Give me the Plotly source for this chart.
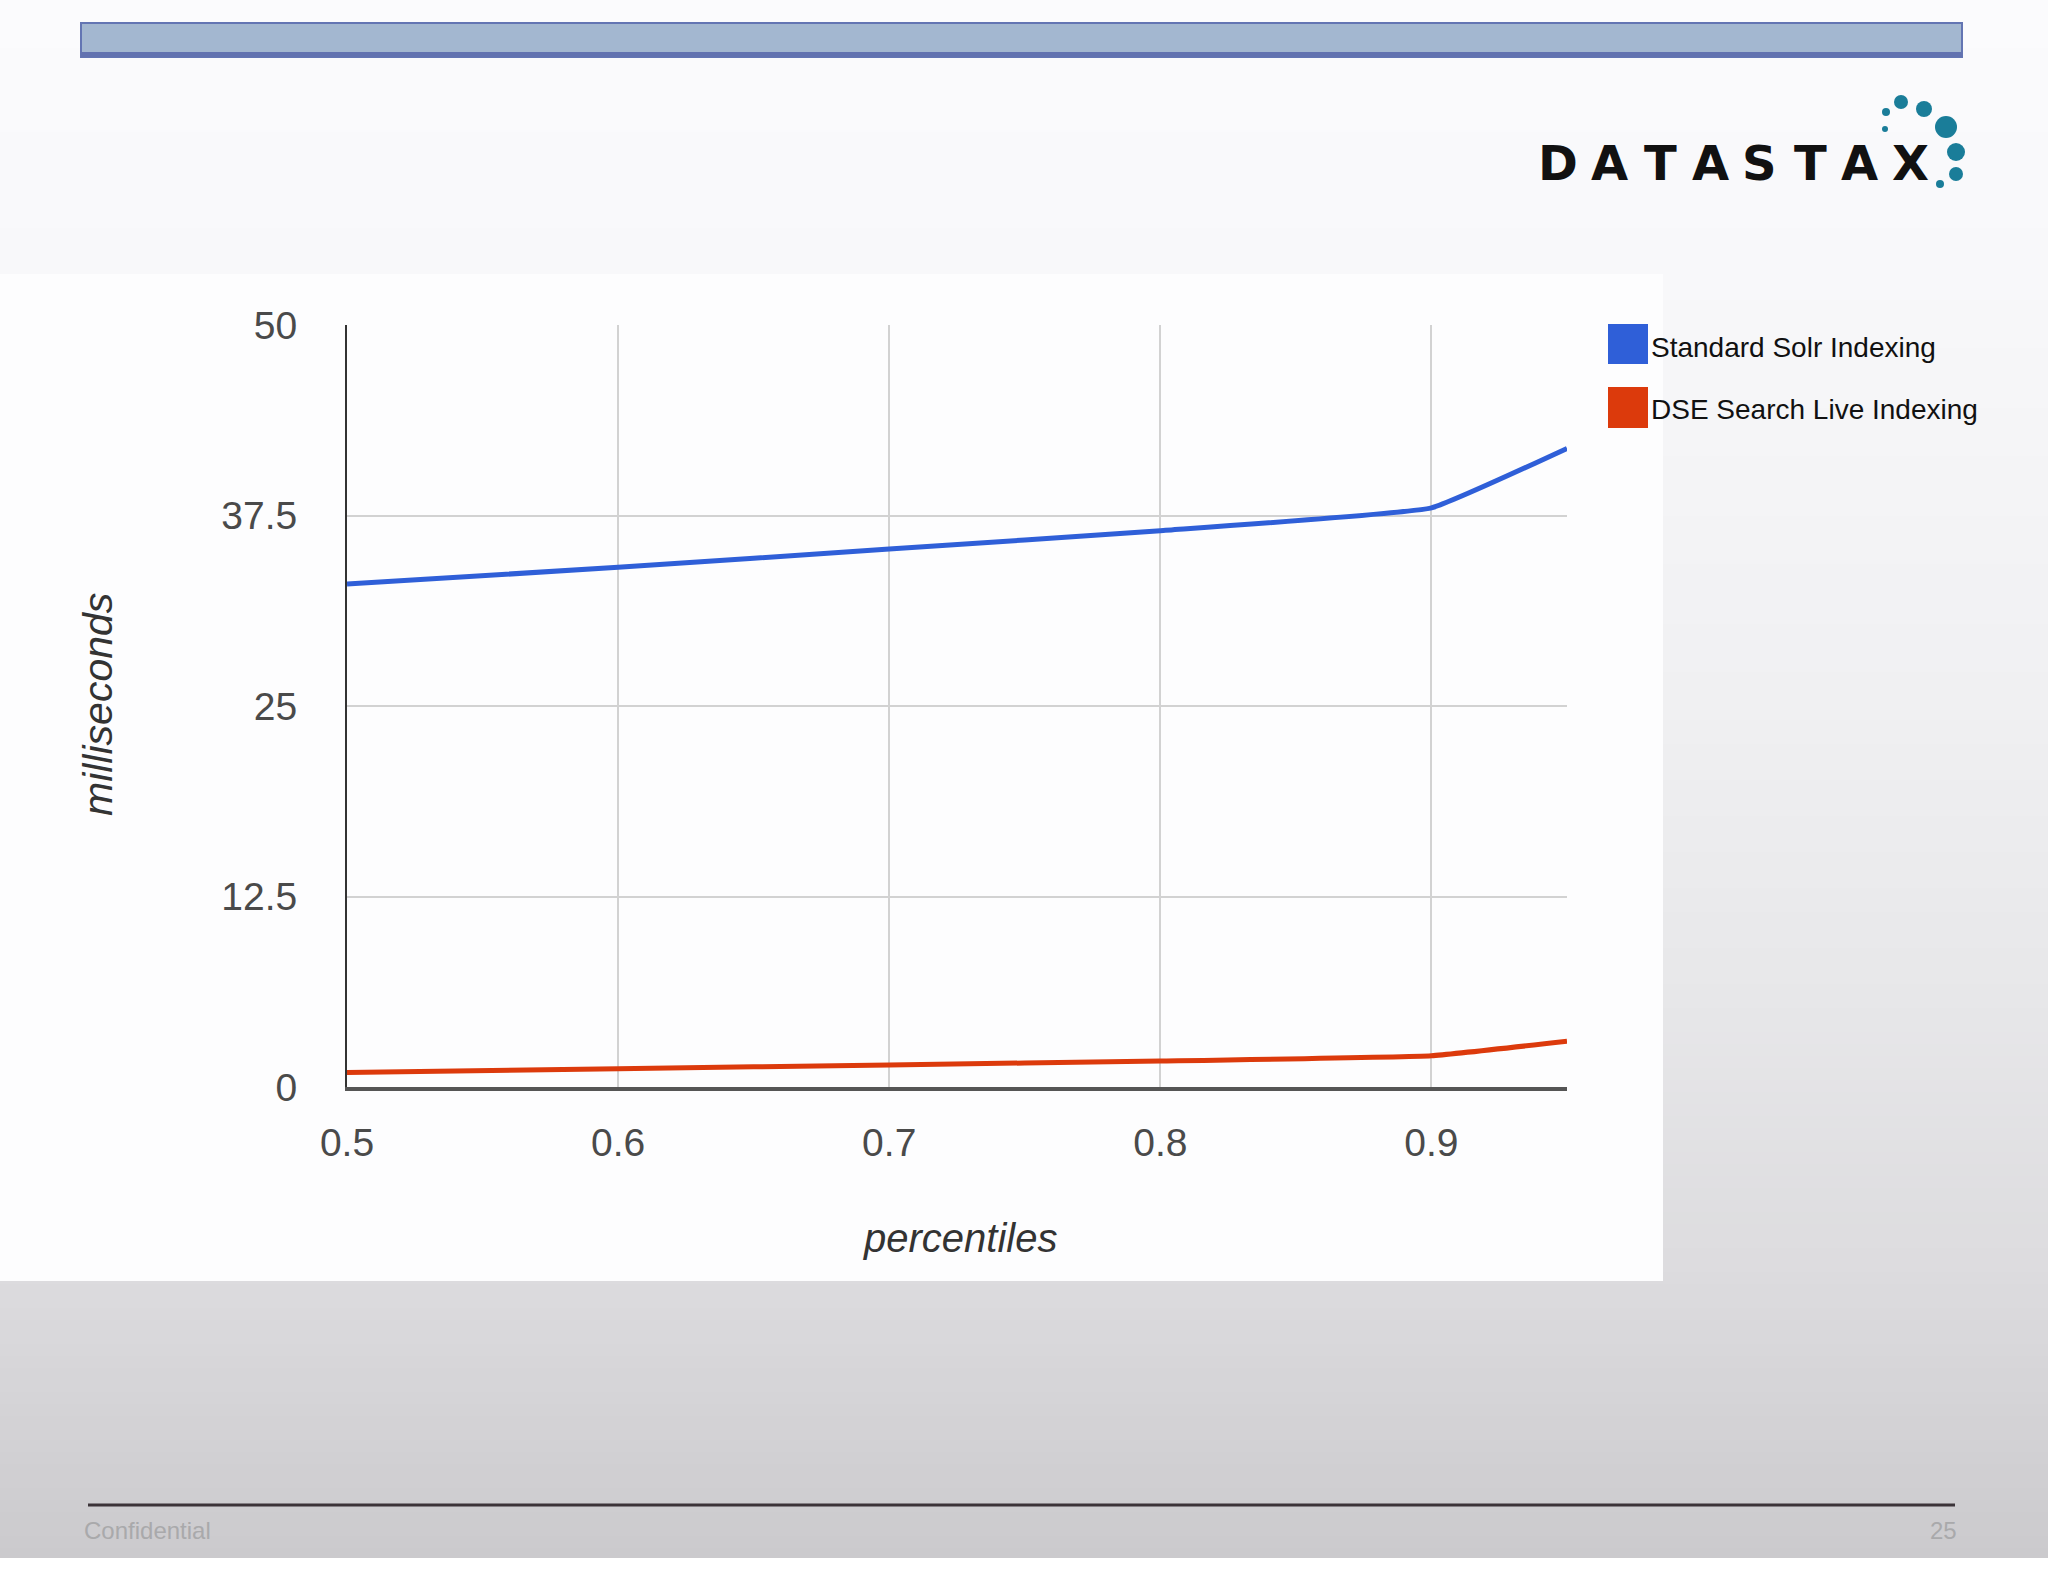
import plotly.graph_objects as go

# ---------------- data ----------------
percentiles = [0.5, 0.6, 0.7, 0.8, 0.9, 0.95]
standard_solr = [33.0, 34.1, 35.3, 36.5, 38.0, 41.9]
dse_live = [0.95, 1.2, 1.45, 1.7, 2.05, 3.0]
series_names = ["Standard Solr Indexing", "DSE Search Live Indexing"]
series_colors = ["#2f5fd8", "#dc3a0c"]
y_tickvals = [0, 12.5, 25, 37.5, 50]
y_ticktext = ["0", "12.5", "25", "37.5", "50"]
x_tickvals = [0.5, 0.6, 0.7, 0.8, 0.9]
x_ticktext = ["0.5", "0.6", "0.7", "0.8", "0.9"]

# ---------------- geometry ----------------
OFF = 0  # body margin removed via post_script
W, H = 2048, 1582
PLOT_X0, PLOT_X1, PLOT_Y0, PLOT_Y1 = 347, 1567, 325, 1087   # page pixels
L = PLOT_X0 - OFF
T = PLOT_Y0 - OFF
R = W - (PLOT_X1 - OFF)
B = H - (PLOT_Y1 - OFF)
PW, PH = W - L - R, H - T - B


def px(x):
    return (x - OFF - L) / PW


def py(y):
    return (H - B - (y - OFF)) / PH


FONT = "Arial, Liberation Sans, sans-serif"

fig = go.Figure()
fig.add_trace(go.Scatter(x=percentiles, y=standard_solr, mode="lines", name=series_names[0],
                         line=dict(color=series_colors[0], width=5, shape="spline", smoothing=0.3)))
fig.add_trace(go.Scatter(x=percentiles, y=dse_live, mode="lines", name=series_names[1],
                         line=dict(color=series_colors[1], width=5, shape="spline", smoothing=0.3)))

shapes = []


def rect(x0, y0, x1, y1, fill, line_color=None, lw=0, layer="below"):
    shapes.append(dict(type="rect", xref="paper", yref="paper", x0=px(x0), x1=px(x1),
                       y0=py(y1), y1=py(y0), fillcolor=fill, layer=layer,
                       line=dict(color=line_color or fill, width=lw)))


def hexmix(c1, c2, t):
    a = [int(c1[i:i + 2], 16) for i in (1, 3, 5)]
    b = [int(c2[i:i + 2], 16) for i in (1, 3, 5)]
    return "#" + "".join(f"{round(a[k] + (b[k] - a[k]) * t):02x}" for k in range(3))


# slide background gradient
stops = [(0, "#fbfbfd"), (274, "#f8f8fa"), (700, "#f0f0f2"), (1000, "#e7e7e9"),
         (1281, "#dcdbde"), (1558, "#cbcacd")]
step = 12
yy = 0
while yy < 1558:
    mid = yy + step / 2
    for i in range(len(stops) - 1):
        if stops[i][0] <= mid <= stops[i + 1][0]:
            t = (mid - stops[i][0]) / (stops[i + 1][0] - stops[i][0])
            col = hexmix(stops[i][1], stops[i + 1][1], t)
            break
    rect(0, yy, W + OFF, min(yy + step + 1, 1558), col)
    yy += step
rect(0, 1558, W + OFF, H + OFF, "#ffffff")

# chart panel
rect(0, 274, 1663, 1281, "#fdfdfe")

# top bar
rect(81, 23, 1962, 57, "#a3b7d0", "#6375b3", 2)
rect(81, 52, 1962, 57, "#6272b0")

# footer line
shapes.append(dict(type="line", xref="paper", yref="paper", x0=px(88), x1=px(1955),
                   y0=py(1505), y1=py(1505), line=dict(color="#3b3338", width=3), layer="below"))

# legend squares
rect(1608, 324, 1648, 364, series_colors[0], layer="above")
rect(1608, 387, 1648, 428, series_colors[1], layer="above")

# logo dots
dots = [(1886, 112, 4), (1885, 129, 3), (1901, 102, 7), (1924, 109, 8),
        (1946, 127, 11), (1956, 152, 9), (1956, 174, 7), (1940, 184, 4)]
for cx, cy, r in dots:
    shapes.append(dict(type="circle", xref="paper", yref="paper",
                       x0=px(cx - r), x1=px(cx + r), y0=py(cy + r), y1=py(cy - r),
                       fillcolor="#1a7d99", line=dict(width=0), layer="above"))

annotations = []
# logo letters
logo_x = [1558, 1609, 1660, 1710, 1759, 1810, 1859, 1910]
for ch, lx in zip("DATASTAX", logo_x):
    annotations.append(dict(text=ch, x=px(lx), y=py(163), xref="paper", yref="paper",
                            showarrow=False, xanchor="center", yanchor="middle",
                            font=dict(family="DejaVu Sans, sans-serif", size=48, color="#111111",
                                      weight=700)))

# legend texts
for name, cy in zip(series_names, [347, 410]):
    annotations.append(dict(text=name, x=px(1649), y=py(cy), xref="paper", yref="paper",
                            showarrow=False, xanchor="left", yanchor="middle",
                            font=dict(family=FONT, size=28, color="#111111")))

# axis titles
annotations.append(dict(text="<i>percentiles</i>", x=px(960), y=py(1238), xref="paper", yref="paper",
                        showarrow=False, xanchor="center", yanchor="middle",
                        font=dict(family=FONT, size=40, color="#333333")))
annotations.append(dict(text="<i>milliseconds</i>", x=px(98), y=py(705), xref="paper", yref="paper",
                        showarrow=False, xanchor="center", yanchor="middle", textangle=-90,
                        font=dict(family=FONT, size=41, color="#333333")))

# footer texts
annotations.append(dict(text="Confidential", x=px(82), y=py(1530), xref="paper", yref="paper",
                        showarrow=False, xanchor="left", yanchor="middle",
                        font=dict(family=FONT, size=24, color="#a9a9ab")))
annotations.append(dict(text="25", x=px(1959), y=py(1530), xref="paper", yref="paper",
                        showarrow=False, xanchor="right", yanchor="middle",
                        font=dict(family=FONT, size=24, color="#a9a9ab")))

fig.update_layout(
    width=W, height=H, margin=dict(l=L, r=R, t=T, b=B, autoexpand=False),
    paper_bgcolor="#ffffff", plot_bgcolor="rgba(0,0,0,0)",
    showlegend=False, shapes=shapes, annotations=annotations,
    xaxis=dict(range=[0.5, 0.95], tickvals=x_tickvals, ticktext=x_ticktext,
               showgrid=True, gridcolor="#d2d2d2", gridwidth=2, zeroline=False,
               showline=True, linecolor="#555555", linewidth=4, ticks="",
               ticklabelstandoff=18, tickfont=dict(family=FONT, size=39, color="#4a4a4a")),
    yaxis=dict(range=[0, 50], tickvals=y_tickvals, ticktext=y_ticktext,
               showgrid=True, gridcolor="#d2d2d2", gridwidth=2, zeroline=False,
               showline=True, linecolor="#333333", linewidth=2, ticks="",
               ticklabelstandoff=40, tickfont=dict(family=FONT, size=39, color="#4a4a4a")),
)

fig.write_html("out.html", config={"displayModeBar": False},
               post_script="document.body.style.margin='0';document.body.style.overflow='hidden';")
